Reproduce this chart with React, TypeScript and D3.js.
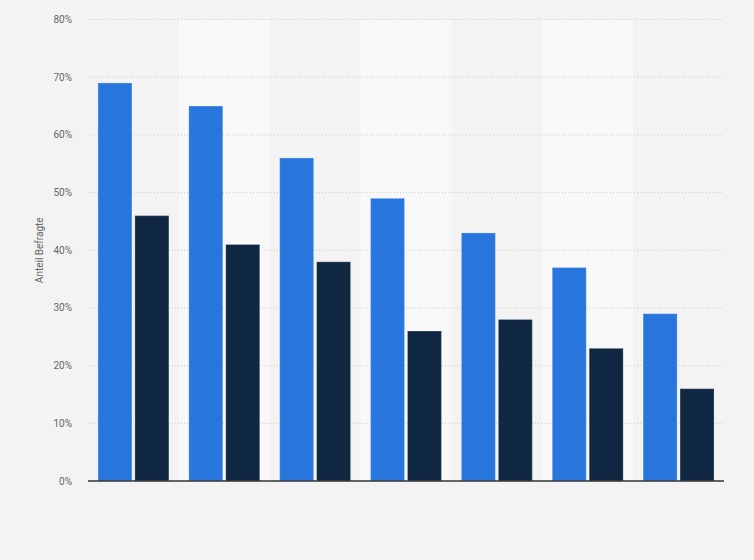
import { useMemo } from "react";
import * as d3 from "d3";

const WIDTH = 754;
const HEIGHT = 560;
const MARGIN = { top: 19.5, right: 30, bottom: 79, left: 88 };

const categories = ["1", "2", "3", "4", "5", "6", "7"];
const seriesKeys = ["a", "b"];
const seriesA = [69, 65, 56, 49, 43, 37, 29];
const seriesB = [46, 41, 38, 26, 28, 23, 16];
const yTicks = [0, 10, 20, 30, 40, 50, 60, 70, 80];
const COLORS = ["#2876dd", "#0f2740"];

const App = () => {
  const boundsWidth = WIDTH - MARGIN.left - MARGIN.right;
  const boundsHeight = HEIGHT - MARGIN.top - MARGIN.bottom;

  const xScale = useMemo(
    () => d3.scaleBand().domain(categories).range([0, boundsWidth]).padding(0),
    [boundsWidth]
  );
  const subScale = useMemo(
    () =>
      d3
        .scaleBand()
        .domain(seriesKeys)
        .range([0, xScale.bandwidth()])
        .paddingInner(0.08)
        .paddingOuter(0.27),
    [xScale]
  );
  const yScale = useMemo(
    () => d3.scaleLinear().domain([0, 80]).range([boundsHeight, 0]),
    [boundsHeight]
  );

  // alternating lighter column backgrounds
  const bands = categories.map((c, i) =>
    i % 2 === 1 ? (
      <rect
        key={c}
        x={xScale(c)}
        y={0}
        width={xScale.bandwidth()}
        height={boundsHeight}
        fill="#f8f8f8"
      />
    ) : null
  );

  const grid = yTicks.map((t) => (
    <g key={t}>
      {t > 0 && (
        <line
          x1={0}
          x2={boundsWidth}
          y1={yScale(t)}
          y2={yScale(t)}
          stroke="#c8c8c8"
          strokeDasharray="1,2"
        />
      )}
      <text
        x={-16}
        y={yScale(t)}
        textAnchor="end"
        dominantBaseline="central"
        fontSize={10}
        fill="#666"
        fontFamily="Roboto, Arial, sans-serif"
      >
        {t}%
      </text>
    </g>
  ));

  const bars = categories.map((c, i) => {
    const x0 = xScale(c) ?? 0;
    const vals = [seriesA[i], seriesB[i]];
    return (
      <g key={c} transform={`translate(${x0},0)`}>
        {seriesKeys.map((k, j) => (
          <rect
            key={k}
            x={subScale(k)}
            y={yScale(vals[j])}
            width={subScale.bandwidth()}
            height={boundsHeight - yScale(vals[j])}
            fill={COLORS[j]}
            stroke="rgba(255,255,255,0.25)"
            strokeWidth={1}
          />
        ))}
      </g>
    );
  });

  return (
    <svg
      width={WIDTH}
      height={HEIGHT}
      style={{ position: "absolute", left: 0, top: 0, display: "block" }}
    >
      <rect width={WIDTH} height={HEIGHT} fill="#f3f3f3" />
      <g transform={`translate(${MARGIN.left},${MARGIN.top})`}>
        {bands}
        {grid}
        {bars}
        <line
          x1={0}
          x2={boundsWidth}
          y1={boundsHeight}
          y2={boundsHeight}
          stroke="#333"
          strokeWidth={1.5}
        />
      </g>
      <text
        transform={`translate(43,${MARGIN.top + boundsHeight / 2}) rotate(-90)`}
        textAnchor="middle"
        fontSize={10}
        fill="#666"
        fontFamily="Roboto, Arial, sans-serif"
      >
        Anteil Befragte
      </text>
    </svg>
  );
};

export default App;
